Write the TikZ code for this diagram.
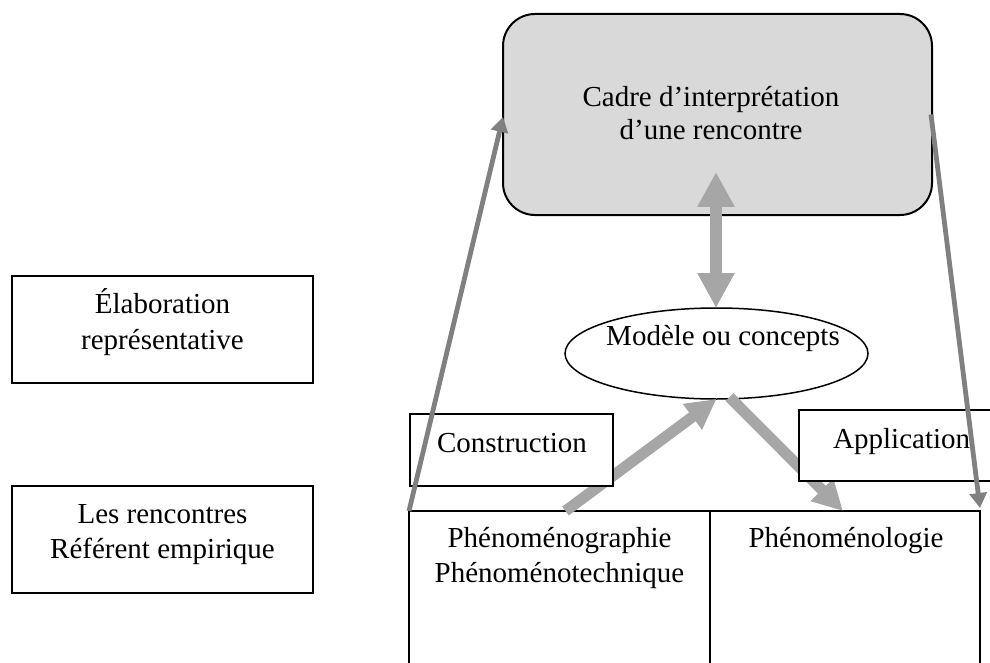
\documentclass[tikz,border=0pt]{standalone}
\usepackage{fontspec}
\setmainfont{Liberation Serif}
\usetikzlibrary{arrows.meta,shapes.geometric}
\definecolor{boxgray}{RGB}{217,217,217}
\definecolor{thickgray}{RGB}{166,166,166}
\definecolor{thingray}{RGB}{128,128,128}
\begin{document}
\begin{tikzpicture}[x=1pt,y=-1pt,
  txt/.style={font=\fontsize{29}{34}\selectfont, inner sep=0pt, anchor=base},
  box/.style={draw=black, line width=1.5pt, inner sep=0pt, outer sep=0pt, rectangle},
  thickarrow/.style={draw=thickgray, line width=11pt, -{Triangle[width=30pt,length=30pt]}},
  thinarrow/.style={draw=thingray, line width=4.8pt, -{Triangle[width=17pt,length=15pt]}},
]
\useasboundingbox (0,0) rectangle (990,663);
\clip (0,0) rectangle (990,663);

% top rounded box
\node[box, fill=boxgray, line width=2pt, rounded corners=32pt,
      minimum width=429pt, minimum height=201pt] (cadre) at (717.5,114.5) {};
\node[txt] (cadre1) at (711,107) {Cadre d’interprétation};
\node[txt] (cadre2) at (711,140) {d’une rencontre};

% left boxes
\node[box, minimum width=301pt, minimum height=107pt] (elab) at (162.5,329.5) {};
\node[txt] (elab1) at (162.5,313) {Élaboration};
\node[txt] (elab2) at (162.5,349) {représentative};

\node[box, minimum width=301pt, minimum height=107pt] (renc) at (162.5,539.5) {};
\node[txt] (renc1) at (162.5,523) {Les rencontres};
\node[txt] (renc2) at (162.5,558) {Référent empirique};

% ellipse
\node[draw=black, line width=1.5pt, ellipse, inner sep=0pt, outer sep=0pt,
      minimum width=303pt, minimum height=91pt] (modele) at (716.5,353.5) {};
\node[txt] (modeletxt) at (723,345) {Modèle ou concepts};

% bottom boxes (cut off by the frame)
\node[box, minimum width=301pt, minimum height=189pt] (botL) at (559.5,605.5) {};
\node[box, minimum width=270pt, minimum height=189pt] (botR) at (845,605.5) {};
\node[txt] (botL1) at (559.5,547) {Phénoménographie};
\node[txt] (botL2) at (559.5,582) {Phénoménotechnique};
\node[txt] (botR1) at (846,547) {Phénoménologie};

% thick arrows
\draw[thickarrow] ([xshift=6pt]botL.north) -- (modele.south);
\draw[thickarrow] ([xshift=13pt,yshift=2pt]modele.south) -- ([xshift=-2pt]botR.north);
\draw[draw=thickgray, line width=12pt,
      {Triangle[width=35pt,length=35pt]}-{Triangle[width=35pt,length=35pt]}]
      ([xshift=-1.5pt,yshift=43pt]cadre.south) -- ([xshift=-0.5pt]modele.north);

% label boxes
\node[box, fill=white, minimum width=203pt, minimum height=72pt] (constr) at (511.5,450) {};
\node[txt] (constrtxt) at (512,452) {Construction};
\node[box, fill=white, minimum width=211pt, minimum height=71pt] (appl) at (904.5,445.5) {};
\node[txt, anchor=base west] (appltxt) at (833,448) {Application};

% thin arrows
\draw[thinarrow] (botL.north west) -- ([yshift=-2.5pt]cadre.west);
\draw[thinarrow] ([xshift=-1pt]cadre.east) -- ([yshift=3pt]botR.north east);
\end{tikzpicture}
\end{document}
